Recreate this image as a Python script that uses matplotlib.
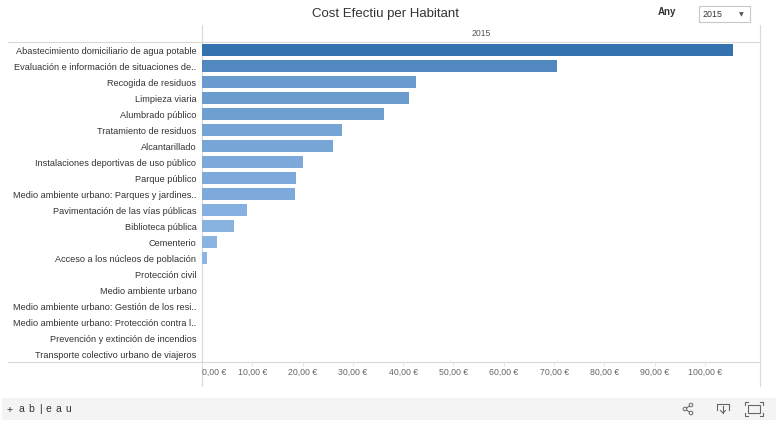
import matplotlib
matplotlib.use("Agg")
import matplotlib.pyplot as plt
from matplotlib.colors import LinearSegmentedColormap
from matplotlib.patches import Rectangle, Circle
from matplotlib.lines import Line2D

plt.rcParams['font.family'] = ['Liberation Sans', 'DejaVu Sans']

categories = [
    "Abastecimiento domiciliario de agua potable",
    "Evaluación e información de situaciones de..",
    "Recogida de residuos",
    "Limpieza viaria",
    "Alumbrado público",
    "Tratamiento de residuos",
    "Alcantarillado",
    "Instalaciones deportivas de uso público",
    "Parque público",
    "Medio ambiente urbano: Parques y jardines..",
    "Pavimentación de las vías públicas",
    "Biblioteca pública",
    "Cementerio",
    "Acceso a los núcleos de población",
    "Protección civil",
    "Medio ambiente urbano",
    "Medio ambiente urbano: Gestión de los resi..",
    "Medio ambiente urbano: Protección contra l..",
    "Prevención y extinción de incendios",
    "Transporte colectivo urbano de viajeros",
]
values = [105.6, 70.6, 42.5, 41.2, 36.2, 27.8, 26.1, 20.1, 18.7, 18.5,
          8.9, 6.4, 3.0, 0.9, 0, 0, 0, 0, 0, 0]
xticks = [0, 10, 20, 30, 40, 50, 60, 70, 80, 90, 100]
year = "2015"

W, H = 776, 441
fig = plt.figure(figsize=(W / 100, H / 100), dpi=100)
fig.patch.set_facecolor("white")

def fx(px):
    return px / W

def fy(py):
    return 1 - py / H

# overlay axes in pixel coordinates for decorations
deco = fig.add_axes([0, 0, 1, 1], zorder=0)
deco.set_xlim(0, W)
deco.set_ylim(H, 0)
deco.axis("off")

line_c = "#d9d9d9"
deco.add_line(Line2D([8, 760], [42, 42], color=line_c, lw=0.8))
deco.add_line(Line2D([8, 760], [362, 362], color=line_c, lw=0.8))
deco.add_line(Line2D([202, 202], [25, 386], color=line_c, lw=0.8))
deco.add_line(Line2D([760, 760], [25, 386], color=line_c, lw=0.8))

deco.text(385, 14, "Cost Efectiu per Habitant", ha="center", va="center",
          fontsize=9.5, color="#333333")
deco.text(481, 33, year, ha="center", va="center", fontsize=6.2, color="#555555")
deco.text(667, 12, "Any", ha="center", va="center", fontsize=7,
          color="#333333", fontweight="bold")
deco.add_patch(Rectangle((699, 6), 51, 16, facecolor="white",
                         edgecolor="#c8c8c8", lw=0.8))
deco.text(703, 14.5, year, ha="left", va="center", fontsize=6.4, color="#333333")
deco.text(741, 14.5, "▼", ha="center", va="center", fontsize=4.5,
          color="#555555", family="DejaVu Sans")

# footer
deco.add_patch(Rectangle((2, 398), 774, 22, facecolor="#f4f4f4", edgecolor="none"))
for ch, px in zip("+ab|eau", [10, 21, 31, 40, 48, 58, 68]):
    deco.text(px, 409.5, ch, ha="center", va="center", fontsize=7.5,
              color="#333333")
ic = "#666666"
# share icon
for cx, cy in [(685, 409), (691, 405), (691, 413)]:
    deco.add_patch(Circle((cx, cy), 1.8, facecolor="none", edgecolor=ic, lw=0.7))
deco.add_line(Line2D([686.5, 689.5], [408, 406], color=ic, lw=0.7))
deco.add_line(Line2D([686.5, 689.5], [410, 412], color=ic, lw=0.7))
# download icon
deco.add_line(Line2D([717, 717, 729, 729], [410, 404, 404, 410], color=ic, lw=0.8))
deco.add_line(Line2D([723, 723], [406, 413], color=ic, lw=0.8))
deco.add_line(Line2D([720.5, 723, 725.5], [410.5, 413, 410.5], color=ic, lw=0.8))
# fullscreen icon
deco.add_patch(Rectangle((748, 405), 12, 8, facecolor="none", edgecolor=ic, lw=0.8))
for x0, y0, dx, dy in [(745, 402, 1, 1), (763, 402, -1, 1), (745, 416, 1, -1), (763, 416, -1, -1)]:
    deco.add_line(Line2D([x0, x0, x0 + 3 * dx], [y0 + 3 * dy, y0, y0], color=ic, lw=0.8))

# main bar chart
ax = fig.add_axes([fx(202), fy(362), fx(760) - fx(202), fy(42) - fy(362)], zorder=1)
ax.patch.set_alpha(0)
cmap = LinearSegmentedColormap.from_list("tab_blue", ["#8db6e3", "#3372ae"])
vmax = max(values)
ypos = list(range(len(categories)))
ax.barh(ypos, values, height=0.72,
        color=[cmap(v / vmax) for v in values], edgecolor="none")
ax.set_ylim(len(categories) - 0.5, -0.5)
ax.set_xlim(0, (760 - 202) / 5.03)
ax.set_yticks(ypos)
ax.set_yticklabels(categories, fontsize=6.6, color="#333333")
ax.tick_params(axis="y", length=0, pad=4)
ax.set_xticks(xticks)
ax.set_xticklabels([f"{t},00 €" for t in xticks], fontsize=6.3, color="#666666")
ax.get_xticklabels()[0].set_ha("left")
ax.tick_params(axis="x", length=3, color="#e6e6e6", pad=1)
for s in ax.spines.values():
    s.set_visible(False)

fig.savefig("out.png", dpi=100, facecolor="white")
